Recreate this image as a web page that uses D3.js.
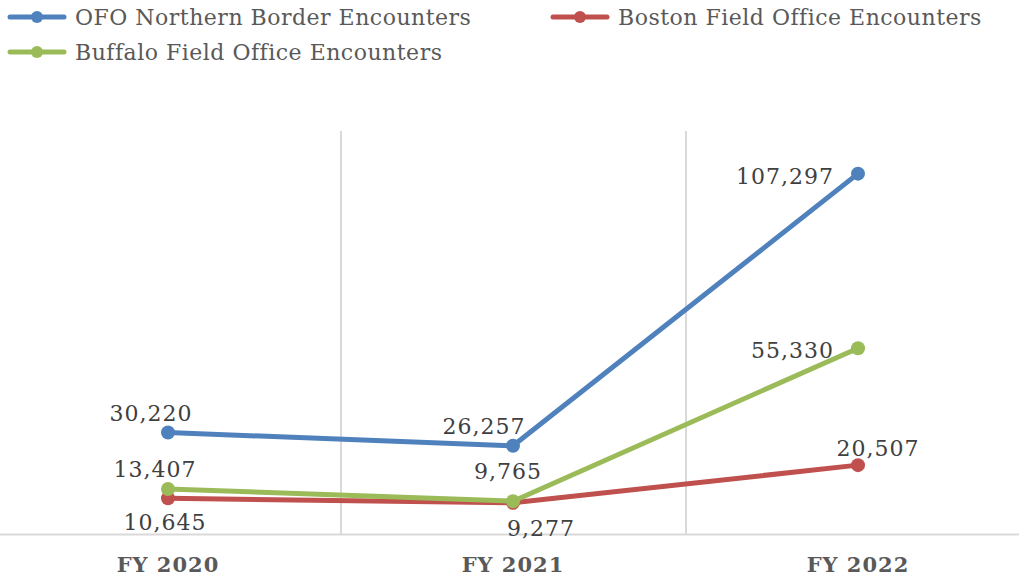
<!DOCTYPE html>
<html>
<head>
<meta charset="utf-8">
<script src="https://cdn.jsdelivr.net/npm/d3@7"></script>
<style>
  body { margin: 0; background: #fff; }
  svg { display: block; font-family: "DejaVu Serif", serif; }
</style>
</head>
<body>
<svg id="chart"></svg>
<script>
// データ
const years = ['FY 2020', 'FY 2021', 'FY 2022'];
const seriesNames = ['OFO Northern Border Encounters', 'Boston Field Office Encounters', 'Buffalo Field Office Encounters'];
const ofoValues = [30220, 26257, 107297];
const bostonValues = [10645, 9277, 20507];
const buffaloValues = [13407, 9765, 55330];
const seriesColors = ['#4f81bd', '#c0504d', '#9bbb59'];

// ラベル位置 (dx, dy, anchor)
const labelPos = [
  [[-17, -12, 'middle'], [-29, -12, 'middle'], [-24, 10, 'end']],
  [[-3, 32, 'middle'], [28, 33, 'middle'], [20, -9, 'middle']],
  [[-13, -12, 'middle'], [-5, -22, 'middle'], [-24, 10, 'end']]
];

const width = 1019, height = 577;
const svg = d3.select('#chart').attr('width', width).attr('height', height);

const series = [ofoValues, bostonValues, buffaloValues].map((v, i) => ({
  name: seriesNames[i], color: seriesColors[i], values: v, pos: labelPos[i]
}));

const xscale = d3.scalePoint().domain(years).range([168, 858]);
const step = xscale.step();
const yscale = d3.scaleLinear().domain([0, 120000]).range([534, 131]);

// グリッド
svg.append('g').selectAll('line')
  .data(years.slice(1))
  .join('line')
  .attr('x1', d => xscale(d) - step / 2 + 0.5)
  .attr('x2', d => xscale(d) - step / 2 + 0.5)
  .attr('y1', yscale(120000))
  .attr('y2', yscale(0))
  .attr('stroke', '#d9d9d9')
  .attr('stroke-width', 2);

svg.append('line')
  .attr('x1', 0).attr('x2', width)
  .attr('y1', yscale(0) + 0.5).attr('y2', yscale(0) + 0.5)
  .attr('stroke', '#d9d9d9')
  .attr('stroke-width', 2);

// x軸ラベル
svg.append('g').selectAll('text')
  .data(years)
  .join('text')
  .attr('x', d => xscale(d))
  .attr('y', 572)
  .attr('text-anchor', 'middle')
  .attr('font-size', 21)
  .attr('font-weight', 'bold')
  .attr('letter-spacing', 1)
  .attr('fill', '#595959')
  .text(d => d);

// 折れ線
const line = d3.line()
  .x((d, i) => xscale(years[i]))
  .y(d => yscale(d));

const groups = svg.append('g').selectAll('g')
  .data(series)
  .join('g');

groups.append('path')
  .attr('d', d => line(d.values))
  .attr('fill', 'none')
  .attr('stroke', d => d.color)
  .attr('stroke-width', 5)
  .attr('stroke-linejoin', 'round');

groups.selectAll('circle')
  .data(d => d.values.map(v => ({ v, color: d.color })))
  .join('circle')
  .attr('cx', (d, i) => xscale(years[i]))
  .attr('cy', d => yscale(d.v))
  .attr('r', 7)
  .attr('fill', d => d.color);

// データラベル
const fmt = d3.format(',');
svg.append('g').selectAll('g')
  .data(series)
  .join('g')
  .selectAll('text')
  .data(d => d.values.map((v, i) => ({ v, i, p: d.pos[i] })))
  .join('text')
  .attr('x', d => xscale(years[d.i]) + d.p[0])
  .attr('y', d => yscale(d.v) + d.p[1])
  .attr('text-anchor', d => d.p[2])
  .attr('font-size', 22)
  .attr('letter-spacing', 1)
  .attr('fill', '#404040')
  .text(d => fmt(d.v));

// 凡例
const legendPos = [[10, 17], [553, 17], [10, 52]];
const legend = svg.append('g').selectAll('g')
  .data(series)
  .join('g')
  .attr('transform', (d, i) => `translate(${legendPos[i][0]}, ${legendPos[i][1]})`);

legend.append('line')
  .attr('x1', 0).attr('x2', 54)
  .attr('stroke', d => d.color)
  .attr('stroke-width', 5)
  .attr('stroke-linecap', 'round');

legend.append('circle')
  .attr('cx', 27).attr('r', 6)
  .attr('fill', d => d.color);

legend.append('text')
  .attr('x', 65)
  .attr('y', 8)
  .attr('font-size', 22)
  .attr('letter-spacing', 0.5)
  .attr('fill', '#595959')
  .text(d => d.name);
</script>
</body>
</html>
